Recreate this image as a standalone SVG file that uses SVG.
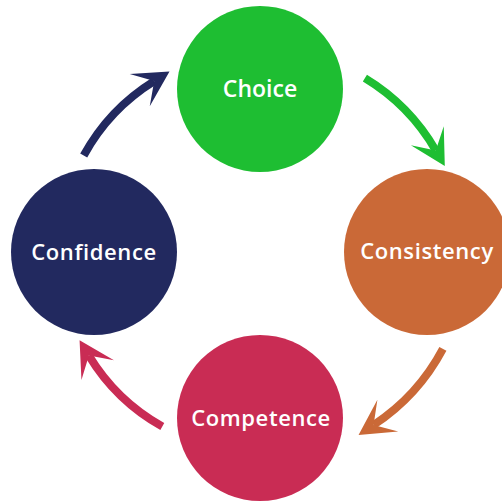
<svg xmlns="http://www.w3.org/2000/svg" width="502" height="503" viewBox="0 0 502 503">
  <style>
    .label { fill: #ffffff; font-family: "Open Sans", "Noto Sans", sans-serif; font-weight: 600; text-anchor: middle; }
    .wide { font-size: 22px; letter-spacing: 0.6px; }
    .link { fill: none; stroke-width: 8; stroke-linecap: butt; }
  </style>
  <defs>
    <marker id="head-green" viewBox="-20 -20 40 40" refX="0" refY="0" markerWidth="40" markerHeight="40" markerUnits="userSpaceOnUse" orient="auto">
      <polygon points="18,0 -17,-19 0,0 -17,19" fill="#1ebe32"/>
    </marker>
    <marker id="head-orange" viewBox="-20 -20 40 40" refX="0" refY="0" markerWidth="40" markerHeight="40" markerUnits="userSpaceOnUse" orient="auto">
      <polygon points="18,0 -17,-19 0,0 -17,19" fill="#ca6937"/>
    </marker>
    <marker id="head-pink" viewBox="-20 -20 40 40" refX="0" refY="0" markerWidth="40" markerHeight="40" markerUnits="userSpaceOnUse" orient="auto">
      <polygon points="18,0 -17,-19 0,0 -17,19" fill="#c92c54"/>
    </marker>
    <marker id="head-navy" viewBox="-20 -20 40 40" refX="0" refY="0" markerWidth="40" markerHeight="40" markerUnits="userSpaceOnUse" orient="auto">
      <polygon points="18,0 -17,-19 0,0 -17,19" fill="#22295f"/>
    </marker>
  </defs>

  <!-- cycle connectors: arcs around the diagram centre -->
  <g id="connectors">
    <path class="link" stroke="#1ebe32" d="M364.9,78.2 A203,203 0 0 1 435.8,150.5" marker-end="url(#head-green)"/>
    <path class="link" stroke="#ca6937" d="M442.9,348.9 A207,207 0 0 1 373.6,425.0" marker-end="url(#head-orange)"/>
    <path class="link" stroke="#c92c54" d="M162.3,426.5 A200,200 0 0 1 88.9,355.6" marker-end="url(#head-pink)"/>
    <path class="link" stroke="#22295f" d="M83.7,155.5 A201,201 0 0 1 154.2,81.1" marker-end="url(#head-navy)"/>
  </g>

  <g id="choice">
    <circle cx="260" cy="89" r="83" fill="#1ebe32"/>
    <text class="label" x="260" y="97" font-size="23">Choice</text>
  </g>
  <g id="consistency">
    <circle cx="427" cy="252" r="83" fill="#ca6937"/>
    <text class="label wide" x="427" y="259">Consistency</text>
  </g>
  <g id="competence">
    <circle cx="260" cy="418" r="83" fill="#c92c54"/>
    <text class="label wide" x="261" y="426">Competence</text>
  </g>
  <g id="confidence">
    <circle cx="94" cy="252" r="83" fill="#22295f"/>
    <text class="label wide" x="94" y="260">Confidence</text>
  </g>
</svg>
